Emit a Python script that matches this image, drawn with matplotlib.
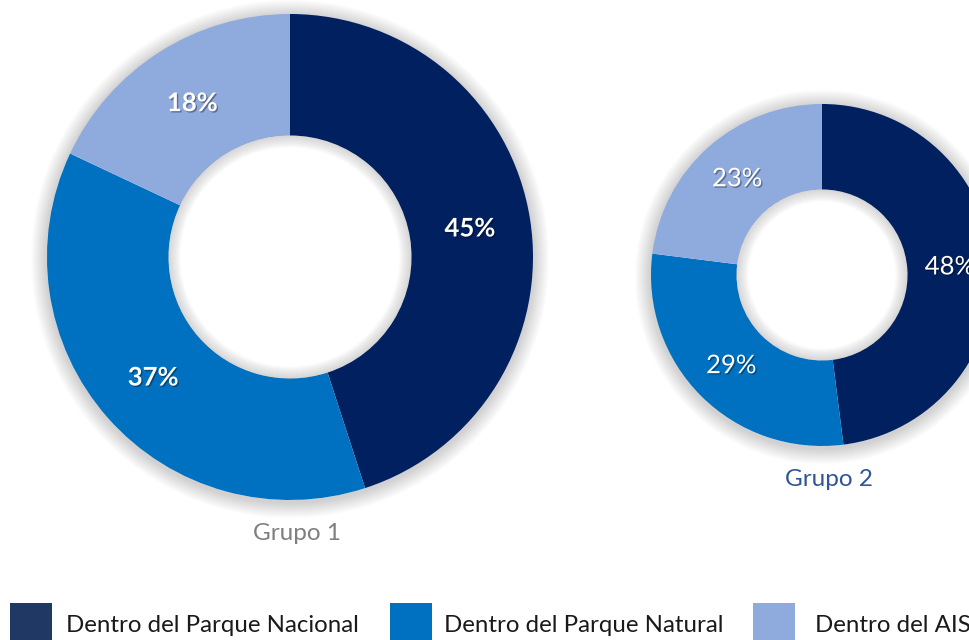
import math
import matplotlib.pyplot as plt
import matplotlib.patheffects as pe
from matplotlib.patches import Wedge, Rectangle

plt.rcParams['font.family'] = ['Lato', 'DejaVu Sans']

categories = ["Dentro del Parque Nacional", "Dentro del Parque Natural", "Dentro del AIS"]
grupo1 = [45, 37, 18]
grupo2 = [48, 29, 23]
colors = ["#002060", "#0070C0", "#8FAADC"]
legend_colors = ["#203864", "#0070C0", "#8FAADC"]

W, H = 969, 640
fig = plt.figure(figsize=(W / 100, H / 100), dpi=100)
ax = fig.add_axes([0, 0, 1, 1])


def donut(values, cx, cy, r, bold, title, title_color):
    cy = H - cy
    # soft outer shadow (rings outside the donut)
    for i in range(16):
        ax.add_patch(Wedge((cx, cy - 2), r + 16 - i, 0, 360, width=16 - i + 2,
                           color="#707070", alpha=0.018, lw=0, zorder=1))
    wedges, _ = ax.pie(values, colors=colors, radius=r, center=(cx, cy), startangle=90,
                       counterclock=False, wedgeprops=dict(width=r / 2, linewidth=0),
                       frame=True)
    for w in wedges:
        w.set_zorder(2)
    # inner shadow in the hole
    rin = r / 2
    for i in range(12):
        ax.add_patch(Wedge((cx, cy), rin, 0, 360, width=i + 1, color="#707070",
                           alpha=0.022, lw=0, zorder=3))
    total = sum(values)
    start = 0
    for v in values:
        mid = (start + v / 2) / total * 2 * math.pi
        rr = r * 0.75
        x = cx + rr * math.sin(mid)
        y = cy + rr * math.cos(mid)
        ax.text(x, y, f"{v}%", color="white", fontsize=18.5, ha="center", va="center",
                fontweight="bold" if bold else "normal", zorder=5,
                path_effects=[pe.withSimplePatchShadow(offset=(1, -1), shadow_rgbFace="black", alpha=0.35)])
        start += v
    ax.text(cx + 7, cy - r - 33, title, color=title_color, fontsize=17.5, ha="center",
            va="center", zorder=5)


donut(grupo1, 290, 257, 243, True, "Grupo 1", "#7F7F7F")
donut(grupo2, 822, 275, 171, False, "Grupo 2", "#2F5597")

# legend
sq_x = [10, 390, 753]
tx_x = [66, 444, 815]
for c, sx, tx, lab in zip(legend_colors, sq_x, tx_x, categories):
    ax.add_patch(Rectangle((sx, 0), 42, 37, color=c, lw=0, zorder=5))
    ax.text(tx, H - 625, lab, fontsize=17.3, color="#1a1a1a", ha="left", va="center")

ax.set_xlim(0, W)
ax.set_ylim(0, H)
ax.set_aspect("equal")
ax.axis("off")

fig.savefig("out.png", dpi=100, facecolor="white")
